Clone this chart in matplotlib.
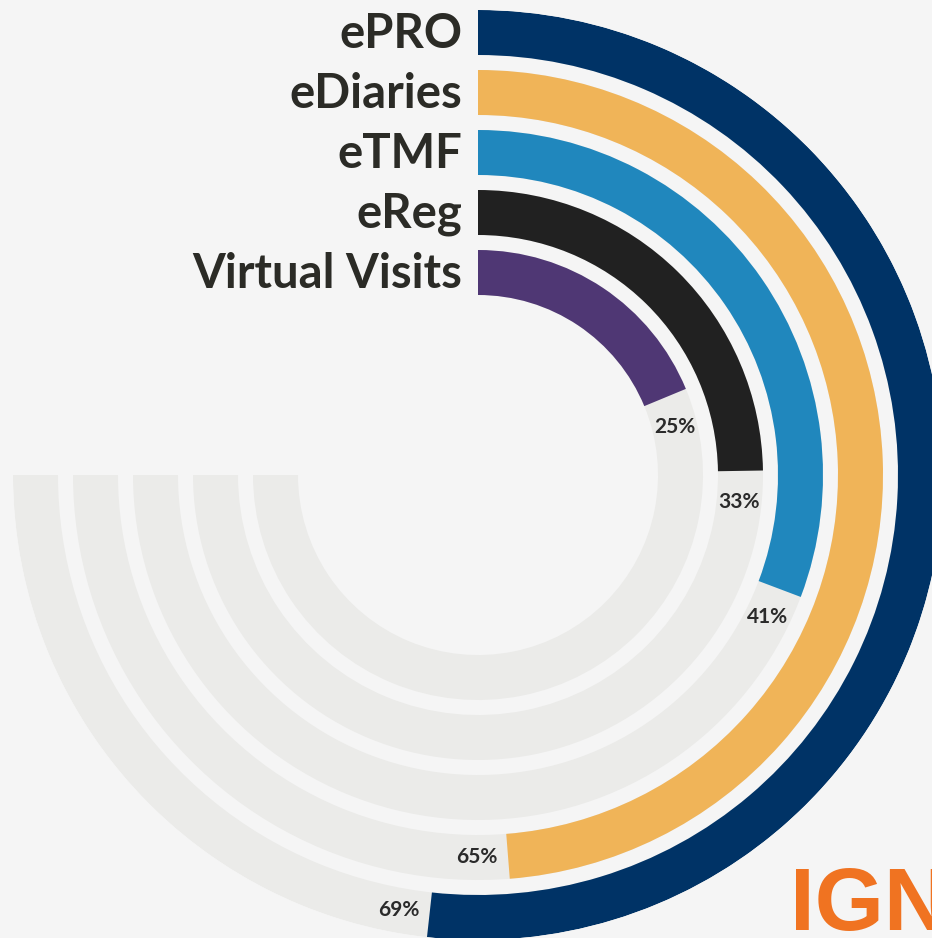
import numpy as np
import matplotlib.pyplot as plt

names = ['ePRO', 'eDiaries', 'eTMF', 'eReg', 'Virtual Visits']
values = [69, 65, 41, 33, 25]
colors = ['#003366', '#F0B458', '#2087BD', '#212121', '#4F3774']
tick_labels = ['69%', '65%', '41%', '33%', '25%']

bg = '#F5F5F5'
track = '#EBEBE9'
full = 1.5 * np.pi          # 100% = 270 degrees
outer = [465 - 60 * i for i in range(len(names))]
width = 45

fig = plt.figure(figsize=(9.32, 9.38), dpi=100, facecolor=bg)
cx, cy, R = 478, 475, 465
ax = fig.add_axes([(cx - R) / 932, (938 - cy - R) / 938, 2 * R / 932, 2 * R / 938],
                  projection='polar')
ax.set_facecolor(bg)
ax.set_theta_zero_location('N')
ax.set_theta_direction(-1)
ax.set_ylim(0, R)
ax.axis('off')

for name, v, c, lab, ro in zip(names, values, colors, tick_labels, outer):
    ri = ro - width
    rm = ro - width / 2
    ax.bar(full / 2, width, width=full, bottom=ri, color=track, linewidth=0, align='center')
    th = v / 100 * full
    ax.bar(th / 2, width, width=th, bottom=ri, color=c, linewidth=0, align='center')
    ax.annotate(name, xy=(0, rm), xytext=(-16, -1), textcoords='offset pixels',
                ha='right', va='center', fontsize=34, fontweight='bold',
                family='Lato', color='#2B2B26')
    ax.text(th + 31 / rm, rm, lab, ha='center', va='center', fontsize=15,
            fontweight='bold', family='Lato', color='#2A2A2A')

fig.text(790 / 932, 8 / 938, 'IGN', ha='left', va='baseline', fontsize=64,
         fontweight='bold', family='Liberation Sans', color='#F07321')

fig.savefig('out.png', dpi=100, facecolor=bg)
